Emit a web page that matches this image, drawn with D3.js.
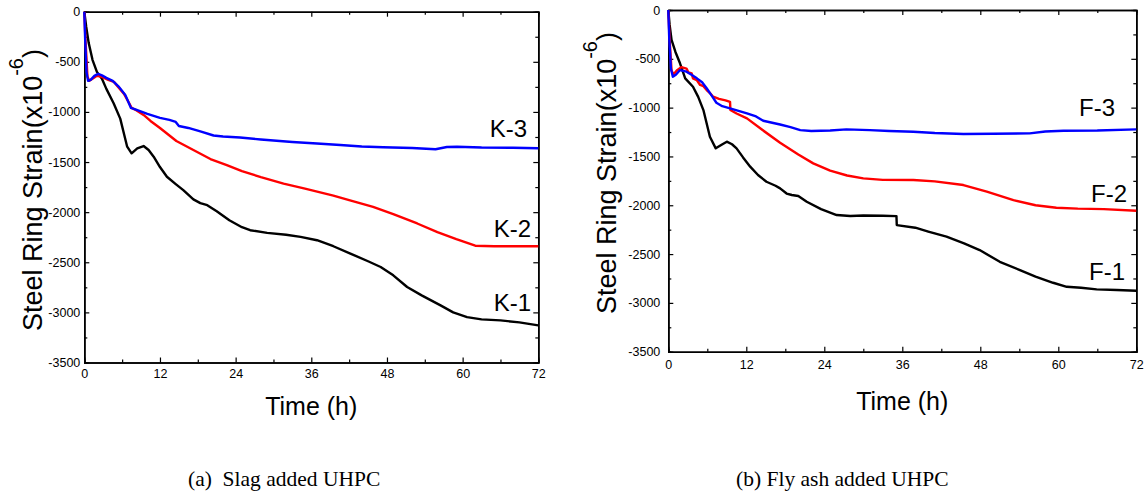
<!DOCTYPE html>
<html>
<head>
<meta charset="utf-8">
<script src="https://cdn.jsdelivr.net/npm/d3@7"></script>
<style>
  body { margin: 0; background: #fff; }
  svg { display: block; font-family: "Liberation Sans", Arial, sans-serif; }
</style>
</head>
<body>
<svg id="chart" width="1145" height="499"></svg>
<script>
// strain readings (x10^-6) against time in hours
var timeTicks = [0, 12, 24, 36, 48, 60, 72]
var strainTicks = [0, -500, -1000, -1500, -2000, -2500, -3000, -3500]

// (a) slag added UHPC
var K1 = [[0,0],[0.3,-150],[0.7,-313],[1.3,-480],[2,-600],[2.8,-670],[3.5,-770],[4.65,-913],[5.7,-1067],[6.3,-1220],[6.8,-1347],[7.5,-1413],[8.4,-1363],[9.4,-1340],[10.2,-1380],[11,-1447],[12,-1550],[13.1,-1647],[14.5,-1720],[15.7,-1780],[17.3,-1873],[18.4,-1910],[19.5,-1930],[21,-1990],[23,-2080],[25,-2150],[26.3,-2180],[29,-2207],[32,-2225],[34.3,-2247],[36.9,-2280],[39.5,-2340],[42.2,-2413],[45,-2490],[47,-2547],[49,-2630],[51.2,-2747],[53.5,-2830],[56.5,-2930],[58.5,-3000],[60.7,-3047],[63,-3070],[66,-3080],[69,-3100],[72,-3130]]
var K2 = [[0,0],[0.2,-300],[0.5,-650],[0.8,-690],[1.3,-670],[2,-640],[2.8,-650],[3.8,-680],[4.7,-700],[5.5,-760],[6.3,-820],[7,-900],[7.5,-960],[8.3,-985],[9.4,-1030],[10.5,-1090],[12,-1160],[14.6,-1290],[17.3,-1380],[20,-1470],[22.6,-1530],[25,-1590],[28,-1650],[31.6,-1715],[35,-1765],[39.5,-1835],[42,-1880],[45.8,-1947],[49,-2020],[52.8,-2113],[56,-2200],[59,-2270],[62,-2335],[65,-2340],[72,-2340]]
var K3 = [[0,0],[0.15,-300],[0.35,-600],[0.6,-690],[1,-680],[1.6,-640],[2.2,-620],[2.8,-635],[3.5,-660],[4.5,-690],[5.5,-750],[6.5,-830],[7.4,-960],[8.3,-980],[10,-1020],[12,-1060],[13.5,-1080],[14.5,-1100],[15,-1140],[16.5,-1160],[18.4,-1195],[20.5,-1235],[22,-1245],[24.7,-1255],[28,-1275],[33,-1300],[36.9,-1315],[40.6,-1330],[44,-1345],[47.4,-1353],[52,-1360],[55.7,-1372],[57.5,-1350],[59.1,-1347],[63,-1355],[68,-1358],[72,-1363]]

// (b) fly ash added UHPC
var F1 = [[0,0],[0.2,-150],[0.5,-307],[1.1,-430],[1.8,-546],[2.6,-700],[3.8,-786],[4.6,-890],[5.4,-1025],[6.4,-1298],[7.3,-1417],[8.2,-1380],[9,-1349],[9.8,-1375],[10.5,-1417],[11.5,-1510],[12.6,-1605],[13.8,-1690],[15.1,-1759],[16.5,-1800],[17.2,-1827],[18.2,-1880],[19,-1895],[20,-1905],[21.3,-1964],[23.5,-2040],[25.9,-2100],[28,-2110],[30,-2105],[33,-2108],[35.1,-2111],[35.15,-2203],[38,-2230],[40,-2270],[42.8,-2322],[45.5,-2390],[47.9,-2459],[51,-2579],[54.1,-2664],[56.5,-2730],[59.2,-2794],[61.3,-2835],[63.5,-2845],[65.9,-2862],[69,-2868],[72,-2876]]
var F2 = [[0,0],[0.2,-300],[0.5,-620],[0.8,-660],[1.3,-620],[2,-585],[2.8,-600],[3.1,-640],[3.6,-650],[3.8,-700],[4.4,-720],[4.9,-768],[5.4,-780],[5.9,-820],[6.4,-850],[6.9,-888],[7.8,-910],[8.8,-925],[9.5,-940],[9.55,-1025],[10.5,-1060],[12.1,-1110],[14.5,-1230],[17.2,-1360],[20,-1480],[22.3,-1571],[24.9,-1646],[27.5,-1695],[30,-1725],[33,-1740],[37.7,-1742],[41,-1755],[45.4,-1793],[49,-1860],[53.1,-1947],[56.5,-2000],[59.7,-2025],[63,-2035],[67,-2040],[72,-2056]]
var F3 = [[0,0],[0.15,-300],[0.4,-600],[0.7,-683],[1.2,-660],[1.8,-615],[2.8,-632],[3.5,-660],[4.4,-700],[5.2,-740],[5.9,-802],[6.7,-880],[7.4,-950],[8.3,-985],[9.5,-1007],[12.1,-1058],[13.5,-1090],[14.6,-1134],[17.2,-1173],[18.8,-1200],[20.3,-1230],[22,-1240],[24.9,-1235],[27.4,-1223],[31,-1230],[34,-1240],[37.7,-1247],[41,-1260],[45.4,-1270],[50,-1268],[55.6,-1264],[58,-1245],[60.8,-1237],[66,-1235],[72,-1223]]

var seriesColors = ["#000000", "#ff0000", "#0000ff"]

var svg = d3.select("#chart")

function draw_panel(p) {
  var x = d3.scaleLinear().domain([0, 72]).range([p.left, p.right])
  var y = d3.scaleLinear().domain([-3500, 0]).range([p.bottom, p.top])
  var plain = function(d) { return String(d) }

  var g = svg.append("g")

  // minor ticks, every 6 h and every 250
  var minorX = d3.range(6, 72, 12), minorY = d3.range(-3250, 0, 500)
  g.append("g").attr("transform", "translate(0," + p.bottom + ")")
      .call(d3.axisBottom(x).tickValues(minorX).tickSize(-3).tickFormat(""))
  g.append("g").attr("transform", "translate(0," + p.top + ")")
      .call(d3.axisTop(x).tickValues(minorX).tickSize(-3).tickFormat(""))
  g.append("g").attr("transform", "translate(" + p.left + ",0)")
      .call(d3.axisLeft(y).tickValues(minorY).tickSize(-3).tickFormat(""))
  g.append("g").attr("transform", "translate(" + p.right + ",0)")
      .call(d3.axisRight(y).tickValues(minorY).tickSize(-3).tickFormat(""))

  // major ticks and frame
  g.append("g").attr("class", "tick-axis").attr("transform", "translate(0," + p.bottom + ")")
      .call(d3.axisBottom(x).tickValues(timeTicks).tickSize(-5).tickSizeOuter(0).tickPadding(p.xPad).tickFormat(plain))
  g.append("g").attr("transform", "translate(0," + p.top + ")")
      .call(d3.axisTop(x).tickValues(timeTicks).tickSize(-5).tickSizeOuter(0).tickFormat(""))
  g.append("g").attr("class", "tick-axis").attr("transform", "translate(" + p.left + ",0)")
      .call(d3.axisLeft(y).tickValues(strainTicks).tickSize(-5).tickSizeOuter(0).tickPadding(p.yPad).tickFormat(plain))
  g.append("g").attr("transform", "translate(" + p.right + ",0)")
      .call(d3.axisRight(y).tickValues(strainTicks).tickSize(-5).tickSizeOuter(0).tickFormat(""))

  g.selectAll(".domain").attr("stroke", "#000").attr("stroke-width", 1.6)
  g.selectAll(".tick line").attr("stroke", "#000").attr("stroke-width", 1.2)
  g.selectAll(".tick-axis text")
      .attr("fill", "#000")
      .style("font-family", "'Liberation Sans', Arial, sans-serif")
      .style("font-size", "12.5px")

  var line = d3.line()
      .x(function(d) { return x(d[0]) })
      .y(function(d) { return y(d[1]) })

  p.series.forEach(function(s, i) {
    g.append("path")
        .datum(s)
        .attr("d", line)
        .attr("fill", "none")
        .attr("stroke", seriesColors[i])
        .attr("stroke-width", 2.4)
        .attr("stroke-linejoin", "round")
  })

  // series names
  p.names.forEach(function(n) {
    g.append("text")
        .attr("x", n[1])
        .attr("y", n[2])
        .attr("text-anchor", "end")
        .style("font-size", "24px")
        .text(n[0])
  })

  // axis titles
  g.append("text")
      .attr("x", (p.left + p.right) / 2)
      .attr("y", p.xTitleY)
      .attr("text-anchor", "middle")
      .style("font-size", "25px")
      .text("Time (h)")

  var yt = g.append("text")
      .attr("transform", "translate(" + p.yTitleX + "," + p.yTitleY + ") rotate(-90)")
      .attr("text-anchor", "middle")
      .style("font-size", "27px")
  yt.append("tspan").text("Steel Ring Strain(x10")
  yt.append("tspan").attr("dy", -19).style("font-size", "20px").text("-6")
  yt.append("tspan").attr("dy", 19).text(")")

  // caption
  g.append("text")
      .attr("x", p.capX)
      .attr("y", 486)
      .attr("xml:space", "preserve")
      .style("white-space", "pre")
      .style("font-family", "'Liberation Serif', 'Times New Roman', serif")
      .style("font-size", "21.5px")
      .text(p.caption)
}

draw_panel({
  left: 84.3, right: 538.3, top: 11.7, bottom: 362.5,
  xPad: 7, yPad: 4,
  series: [K1, K2, K3],
  names: [["K-1", 531, 310.7], ["K-2", 531, 236.7], ["K-3", 527, 136.7]],
  xTitleY: 415, yTitleX: 42, yTitleY: 190,
  capX: 188, caption: "(a)  Slag added UHPC"
})

draw_panel({
  left: 668.3, right: 1136.3, top: 10, bottom: 351.7,
  xPad: 8, yPad: 8,
  series: [F1, F2, F3],
  names: [["F-1", 1125, 280], ["F-2", 1127, 201.7], ["F-3", 1115, 116]],
  xTitleY: 410, yTitleX: 616, yTitleY: 173,
  capX: 736, caption: "(b) Fly ash added UHPC"
})
</script>
</body>
</html>
